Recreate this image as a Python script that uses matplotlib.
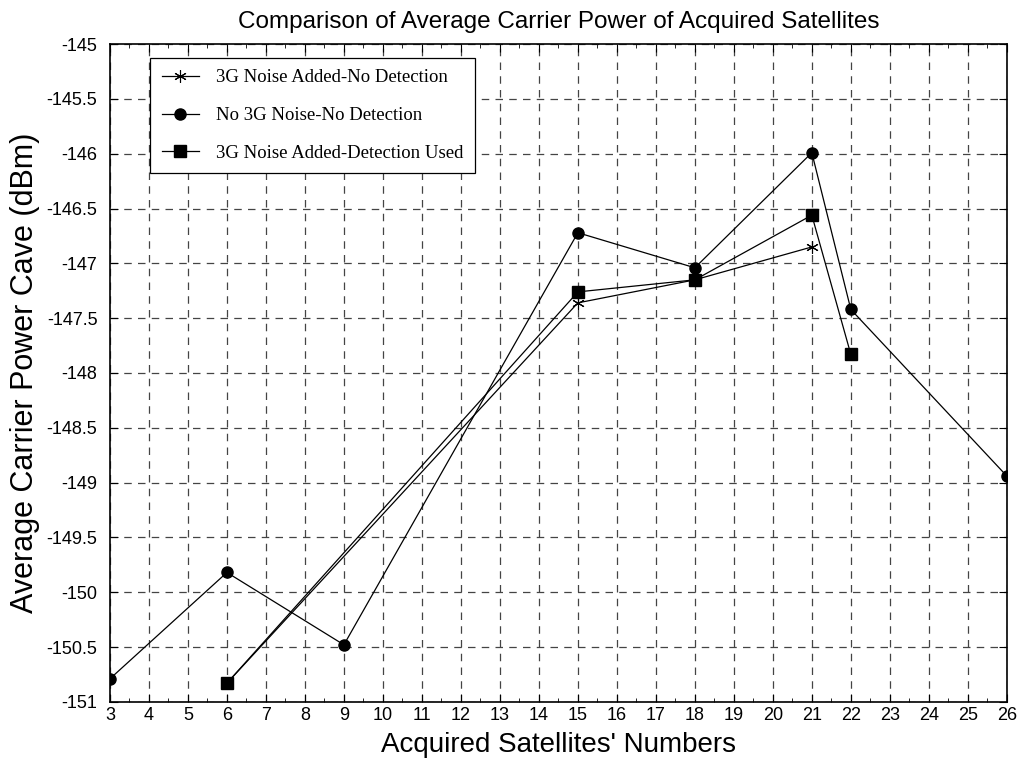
import matplotlib
matplotlib.use('Agg')
import matplotlib.pyplot as plt
from matplotlib.ticker import MultipleLocator

plt.rc('font', family=['Liberation Sans Narrow', 'Liberation Sans', 'DejaVu Sans'], size=12)

# 3G Noise Added-No Detection
sat_noise = [6, 15, 18, 21]
pow_noise = [-150.83, -147.36, -147.15, -146.85]
# No 3G Noise-No Detection
sat_clean = [3, 6, 9, 15, 18, 21, 22, 26]
pow_clean = [-150.79, -149.82, -150.48, -146.72, -147.04, -145.99, -147.42, -148.94]
# 3G Noise Added-Detection Used
sat_det = [6, 15, 18, 21, 22]
pow_det = [-150.83, -147.26, -147.15, -146.56, -147.83]

y_ticks = [-151, -150.5, -150, -149.5, -149, -148.5, -148, -147.5, -147,
           -146.5, -146, -145.5, -145]

fig = plt.figure(figsize=(10.18, 7.62), dpi=100)
ax = fig.add_axes([0.108, 0.079, 0.881, 0.863])

ax.plot(sat_noise, pow_noise, color='k', lw=0.9, marker=(6, 2, 0), ms=9, mew=0.8,
        label='3G Noise Added-No Detection')
ax.plot(sat_clean, pow_clean, color='k', lw=0.9, marker='o', ms=8,
        label='No 3G Noise-No Detection')
ax.plot(sat_det, pow_det, color='k', lw=0.9, marker='s', ms=8,
        label='3G Noise Added-Detection Used')

ax.xaxis.set_major_locator(MultipleLocator(1))
ax.xaxis.set_minor_locator(MultipleLocator(0.5))
ax.set_yticks(y_ticks)
ax.set_yticklabels(['%g' % v for v in y_ticks])
ax.set_xlim(3, 26)
ax.set_ylim(-151, -145)
ax.tick_params(which='both', direction='in', top=True, right=True, labelsize=13)
ax.tick_params(axis='y', pad=9)
ax.tick_params(which='major', length=6)
ax.tick_params(which='minor', length=3)
for s in ax.spines.values():
    s.set_linewidth(1.2)
ax.grid(True, which='major', color='#444444', linestyle=(0, (6, 5)), linewidth=0.9)

ax.set_title('Comparison of Average Carrier Power of Acquired Satellites', fontsize=17.5, pad=12)
ax.set_xlabel("Acquired Satellites' Numbers", fontsize=20, labelpad=6)
ax.set_ylabel('Average Carrier Power Cave (dBm)', fontsize=22, labelpad=5)

leg = ax.legend(loc='upper left', bbox_to_anchor=(0.045, 0.979), borderaxespad=0,
                fancybox=False, edgecolor='k', framealpha=1, handlelength=2.0,
                borderpad=0.6, labelspacing=1.1, handletextpad=0.9,
                prop={'family': ['Liberation Serif', 'DejaVu Serif'], 'size': 13.5})
leg.get_frame().set_linewidth(0.9)

fig.savefig('out.png', dpi=100)
